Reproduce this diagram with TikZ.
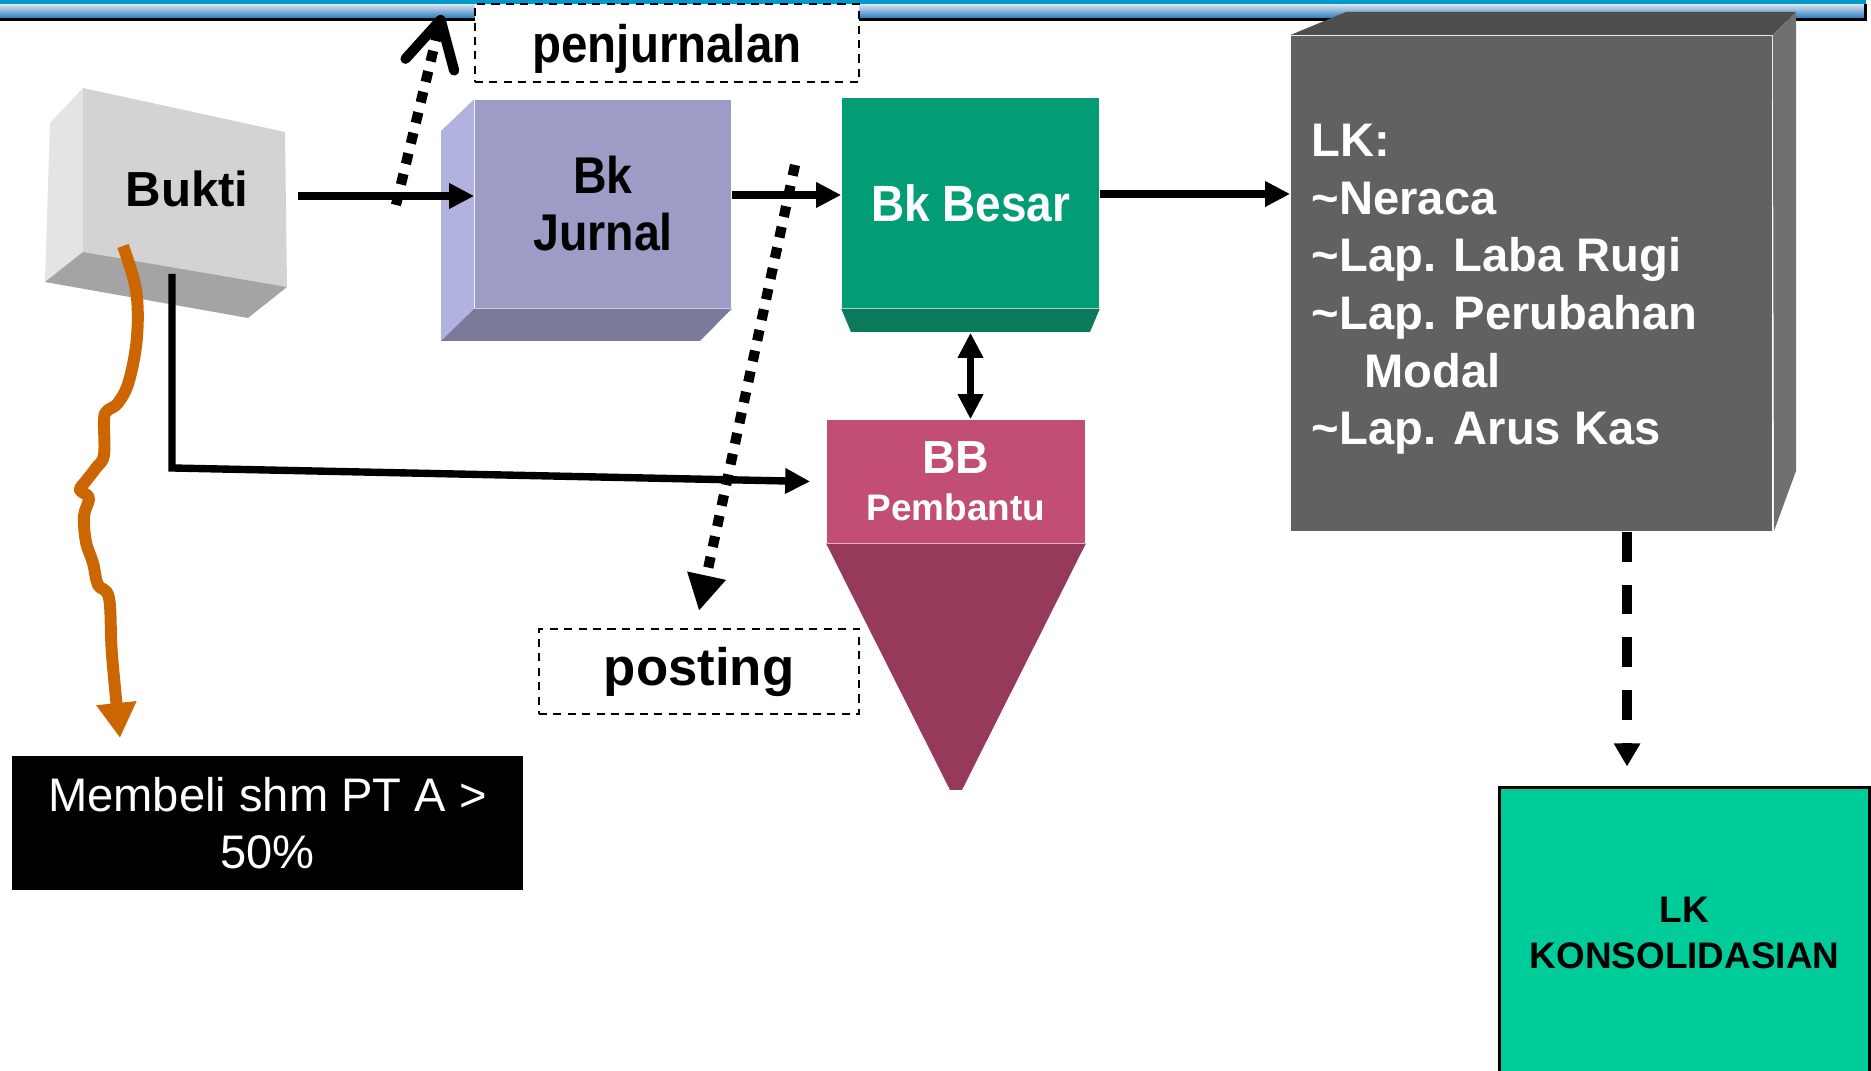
\documentclass[tikz,border=0pt]{standalone}
\usepackage{fontspec}
\setmainfont{Liberation Sans}
\newfontfamily\narrowsans[FakeStretch=0.9]{Liberation Sans}
\usetikzlibrary{arrows.meta}
\definecolor{bandcyan}{RGB}{0,153,204}
\definecolor{bandlight}{RGB}{210,222,236}
\definecolor{bandblue}{RGB}{40,125,192}
\definecolor{buktifront}{RGB}{211,211,211}
\definecolor{buktileft}{RGB}{228,228,228}
\definecolor{buktibottom}{RGB}{164,164,164}
\definecolor{jurnalface}{RGB}{156,156,198}
\definecolor{jurnalleft}{RGB}{178,178,224}
\definecolor{jurnalbottom}{RGB}{122,122,154}
\definecolor{besarface}{RGB}{3,157,117}
\definecolor{besarbottom}{RGB}{10,122,90}
\definecolor{lkface}{RGB}{97,97,97}
\definecolor{lktop}{RGB}{78,78,78}
\definecolor{lkright}{RGB}{112,112,112}
\definecolor{bbface}{RGB}{194,78,116}
\definecolor{bbcone}{RGB}{150,58,91}
\definecolor{curlorange}{RGB}{204,102,0}
\definecolor{konsgreen}{RGB}{0,204,153}
\begin{document}
\begin{tikzpicture}[x=0.01cm, y=-0.01cm, >={Triangle[length=0.25cm,width=0.24cm]},
  arr/.style={->, line width=2.1pt},
  dotline/.style={line width=2.9pt, dash pattern=on 3.1pt off 2.9pt},
  dashline/.style={line width=2.85pt, dash pattern=on 8.5pt off 6.5pt},
  dashbox/.style={draw, line width=0.6pt, dash pattern=on 2.3pt off 1.8pt, fill=white},
  curl/.style={curlorange, line width=3.4pt, line join=round},
  boldtext/.style={font=\bfseries\fontsize{#1}{#1}\selectfont}]
\useasboundingbox (0,0) rectangle (1871,1071);
\fill[bandcyan] (0,0) rectangle (1866,4);
\shade[top color=bandlight, bottom color=bandblue] (0,5) rectangle (1866,18);
\fill (0,18) rectangle (1866,21);
\fill (1864,4) rectangle (1867,21);

\fill[buktileft] (50,123) -- (83,88) -- (83,252) -- (45,282) -- cycle;
\fill[buktifront] (83,88) -- (285,132) -- (287,287) -- (83,252) -- cycle;
\fill[buktibottom] (83,252) -- (287,287) -- (248,318) -- (45,282) -- cycle;
\node[boldtext=14] (bukti) at (187,189) {Bukti};
\coordinate (bukti out) at (298,196);
\coordinate (bukti drop) at (172,274);
\coordinate (curl end) at (120,738);

\node[fill=jurnalface, minimum width=2.56cm, minimum height=2.08cm, align=center,
  font=\narrowsans\bfseries\fontsize{14.7}{16.2}\selectfont] (jurnal) at (603,204) {Bk\\Jurnal};
\fill[jurnalleft] (441,131) -- (jurnal.north west) -- (jurnal.south west) -- (441,341) -- cycle;
\fill[jurnalbottom] (jurnal.south west) -- (jurnal.south east) -- (700,341) -- (441,341) -- cycle;

\node[fill=besarface, minimum width=2.57cm, minimum height=2.10cm, text=white,
  font=\narrowsans\bfseries\fontsize{14.5}{16}\selectfont] (besar) at (970.5,203) {Bk Besar};
\fill[besarbottom] (besar.south west) -- (besar.south east) -- (1090,332) -- (851,332) -- cycle;

\node[fill=lkface, minimum width=4.81cm, minimum height=4.95cm] (lk) at (1531.5,283.5) {};
\fill[lktop] (lk.north west) -- (1346,12) -- (1796,12) -- (lk.north east) -- cycle;
\fill[lkright] (lk.north east) -- (1796,12) -- (1796,471) -- (1774,531) -- cycle;
\node[anchor=west, inner sep=0pt, text=white, align=left, font=\bfseries\fontsize{13.4}{16.4}\selectfont]
  (lklist) at ([xshift=0.21cm, yshift=-0.06cm]lk.west) {LK:\\\textasciitilde Neraca\\\textasciitilde Lap. Laba Rugi\\
  \textasciitilde Lap. Perubahan\\\hspace*{15pt}Modal\\\textasciitilde Lap. Arus Kas};

\node[fill=bbface, minimum width=2.58cm, minimum height=1.23cm, text=white, align=center,
  font=\bfseries\fontsize{10.5}{13.4}\selectfont] (bb) at (956,481.5) {{\fontsize{13.2}{13.4}\selectfont BB}\\Pembantu};
\fill[bbcone] (bb.south west) -- (bb.south east) -- (962,790) -- (950,790) -- cycle;

\node[dashbox, minimum width=3.84cm, minimum height=0.78cm, text depth=0pt,
  font=\narrowsans\bfseries\fontsize{15}{17}\selectfont] (penj) at (667,43) {penjurnalan};
\node[dashbox, minimum width=3.2cm, minimum height=0.85cm, boldtext=15] (posting) at (699,671.5) {posting};
\node[fill=black, text=white, minimum width=5.11cm, minimum height=1.34cm, align=center,
  font=\fontsize{13.4}{16.2}\selectfont] (membeli) at (267.5,823) {Membeli shm PT A >\\50\%};
\node[draw, line width=0.8pt, fill=konsgreen, minimum width=3.69cm, minimum height=2.9cm, align=center,
  font=\bfseries\fontsize{10.5}{13}\selectfont] (kons) at (1684.5,933) {LK\\KONSOLIDASIAN};

\draw[arr] (bukti out) -- (bukti out -| jurnal.west);
\draw[arr] ([yshift=0.09cm]jurnal.east) -- ([yshift=0.09cm]jurnal.east -| besar.west);
\draw[arr] ([yshift=0.09cm]besar.east) -- ([yshift=0.09cm]besar.east -| lk.west);
\draw[arr, <->] ([yshift=-0.24cm]besar.south) -- (besar.south |- bb.north);
\draw[arr] (bukti drop) -- (172,468) -- ([xshift=-0.16cm]bb.west);
\draw[dotline, -{Straight Barb[length=0.46cm,width=0.5cm,line cap=round,line join=round]}]
  (396,205) -- ([xshift=-0.32cm, yshift=0.28cm]penj.west);
\draw[dotline, -{Triangle[length=0.36cm,width=0.37cm]}] (795,165) -- ([yshift=0.17cm]posting.north);
\draw[dashline, -{Triangle[length=0.23cm,width=0.25cm]}, shorten >=0.2cm]
  ([xshift=0.955cm]lk.south) -- ([xshift=0.955cm]lk.south |- kons.north);
\draw[curl, -{Triangle[length=0.35cm,width=0.38cm]}] plot[smooth, tension=0.6] coordinates {(123,246) (136,290)
  (137,337) (129,381) (118,403) (107,411) (104,420) (104,455) (96,468) (86,481) (80,490) (89,498) (84,516)
  (86,542) (93,563) (98,585) (109,598) (112,655) (curl end)};
\end{tikzpicture}
\end{document}
